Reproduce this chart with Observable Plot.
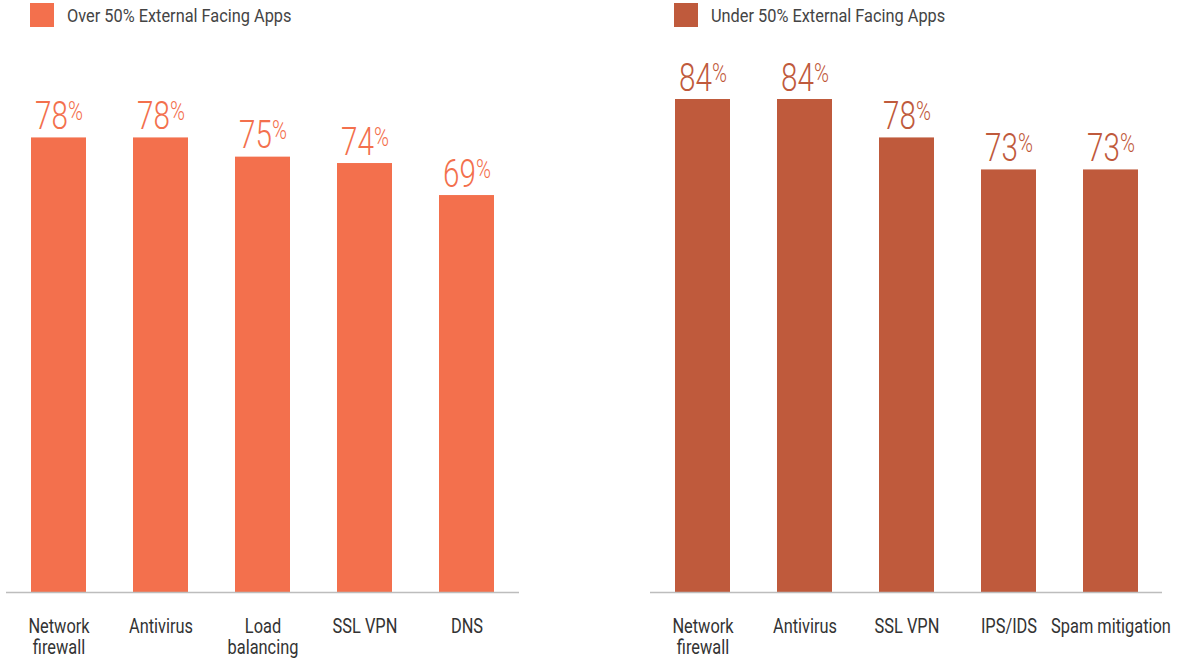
<!DOCTYPE html>
<html><head><meta charset="utf-8">
<script src="https://cdn.jsdelivr.net/npm/d3@7"></script>
<script src="https://cdn.jsdelivr.net/npm/@observablehq/plot@0.6"></script>
<style>
body{margin:0;background:#fff;font-family:Roboto,sans-serif;}
#wrap{position:relative;width:1186px;height:661px;overflow:hidden;}
.legend{position:absolute;top:3px;height:24px;display:flex;align-items:center;}
.legend .sw{width:24px;height:24px;flex:none;}
.legend .lab{margin-left:13px;font-size:19px;color:#444;transform:scaleX(0.86);transform-origin:left center;white-space:nowrap;}
.panel{position:absolute;top:30px;}
</style></head><body><div id="wrap"></div>
<script>
const overCategories = ["Network\nfirewall", "Antivirus", "Load\nbalancing", "SSL VPN", "DNS"];
const overValues = [78, 78, 75, 74, 69];
const underCategories = ["Network\nfirewall", "Antivirus", "SSL VPN", "IPS/IDS", "Spam mitigation"];
const underValues = [84, 84, 78, 73, 73];
const seriesNames = ["Over 50% External Facing Apps", "Under 50% External Facing Apps"];
const seriesColors = ["#F3704D", "#BF5A3C"];
const yDomain = [7, 89];

const wrap = document.getElementById("wrap");

function makePanel(cats, vals, color, name, cfg) {
  const data = cats.map((c, i) => ({c, v: vals[i]}));
  const lg = document.createElement("div");
  lg.className = "legend";
  lg.style.left = cfg.legendLeft + "px";
  lg.innerHTML = `<div class="sw" style="background:${color}"></div><div class="lab"></div>`;
  lg.querySelector(".lab").textContent = name;
  wrap.appendChild(lg);

  const chart = Plot.plot({
    width: cfg.width,
    height: 631,
    marginTop: 37,
    marginBottom: 69,
    marginLeft: cfg.ml,
    marginRight: cfg.mr,
    style: {fontFamily: "Roboto, sans-serif", color: "#333", background: "transparent", overflow: "visible"},
    x: {domain: cats, paddingInner: 0.463, paddingOuter: 0.2315, axis: null},
    y: {domain: yDomain, clamp: true, axis: null},
    marks: [
      Plot.barY(data, {x: "c", y: "v", fill: color}),
      Plot.ruleY([0], {stroke: "#bdbdbd", strokeWidth: 1.5}),
      Plot.axisX({tickSize: 0, tickPadding: 26, fontSize: 20, lineHeight: 1.05, label: null, className: "xlab"}),
      Plot.text(data, {x: "c", y: "v", text: d => String(d.v), dy: -9, lineAnchor: "bottom", fill: color, fontSize: 38, fontWeight: 300, className: "vlab"})
    ]
  });
  const holder = document.createElement("div");
  holder.className = "panel";
  holder.style.left = cfg.left + "px";
  holder.appendChild(chart);
  wrap.appendChild(holder);

  chart.querySelectorAll(".vlab text").forEach(t => {
    const tr = t.getAttribute("transform") || "";
    t.setAttribute("transform", tr + " scale(0.78,1)");
    const sp = document.createElementNS("http://www.w3.org/2000/svg", "tspan");
    sp.setAttribute("font-size", "26");
    sp.setAttribute("dy", "-9");
    sp.textContent = "%";
    t.appendChild(sp);
  });
  chart.querySelectorAll(".xlab text").forEach(t => {
    const tr = t.getAttribute("transform") || "";
    t.setAttribute("transform", tr + " scale(0.82,1)");
  });
}

makePanel(overCategories, overValues, seriesColors[0], seriesNames[0], {left: 0, width: 530, ml: 6, mr: 11, legendLeft: 30});
makePanel(underCategories, underValues, seriesColors[1], seriesNames[1], {left: 640, width: 546, ml: 10, mr: 24, legendLeft: 674});
</script></body></html>
